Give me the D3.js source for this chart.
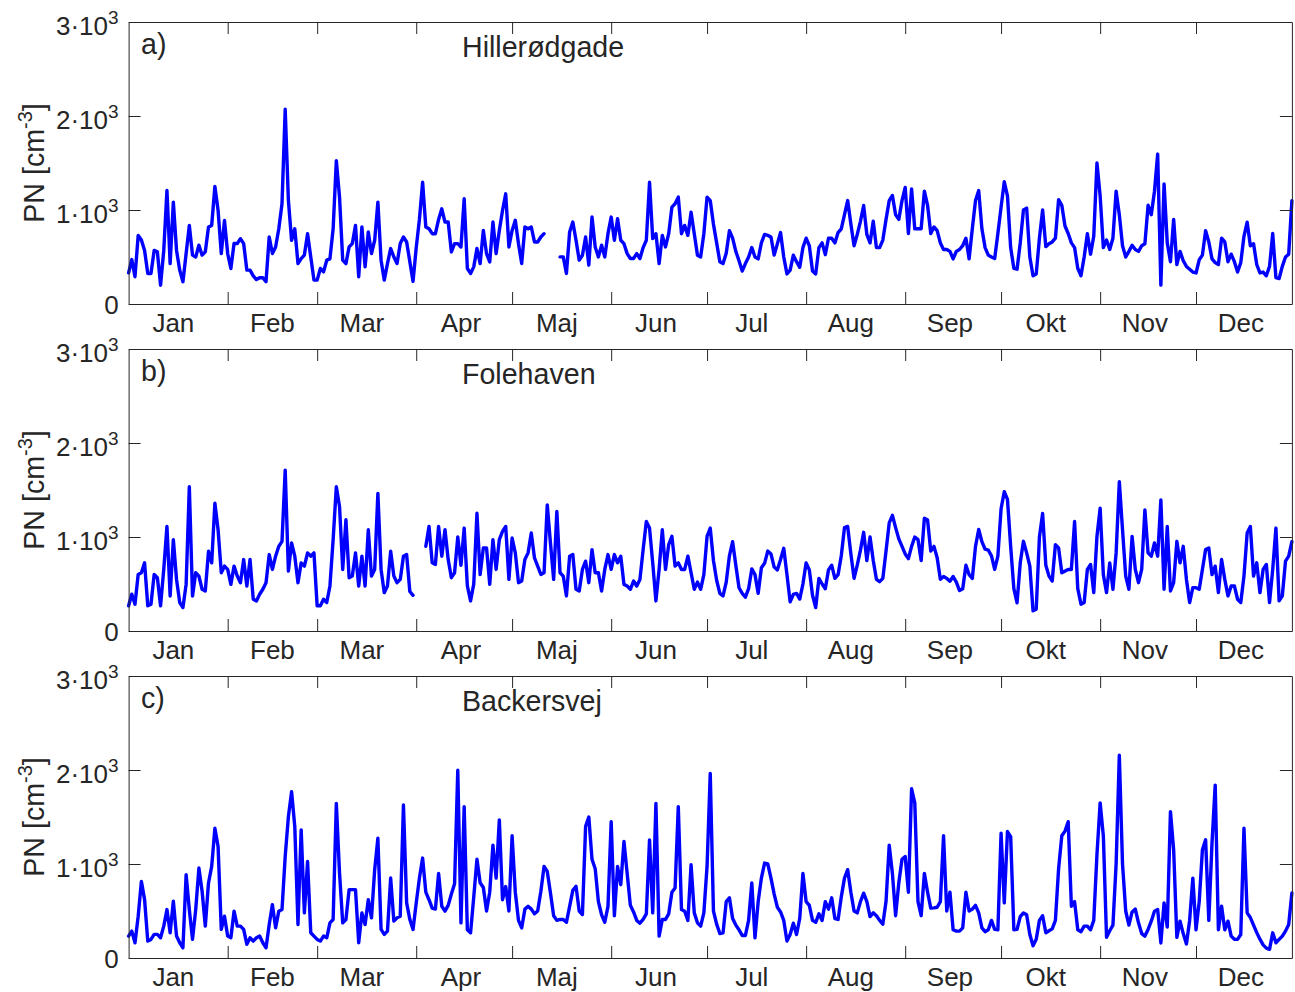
<!DOCTYPE html>
<html>
<head>
<meta charset="utf-8">
<script src="https://cdn.jsdelivr.net/npm/d3@7"></script>
<style>
  html, body { margin: 0; padding: 0; background: #fff; }
  svg { display: block; }
  text { font-family: "Liberation Sans", Arial, Helvetica, sans-serif; fill: #262626; }
</style>
</head>
<body>
<svg id="chart" width="1295" height="992"></svg>
<script>
// Daily mean particle number concentration (PN, cm^-3), day 1..365 of the year.
const months = ["Jan","Feb","Mar","Apr","Maj","Jun","Jul","Aug","Sep","Okt","Nov","Dec"];
const monthStarts = [0,31,59,90,120,151,181,212,243,273,304,334];
const yTicks = [0,1000,2000,3000];
const yTickMantissa = ["0","1","2","3"];
const stations = ["Hillerødgade","Folehaven","Backersvej"];
const panelTags = ["a)","b)","c)"];

const pnHillerodgade = [
 332,473,290,730,680,570,325,325,570,555,
 200,570,1207,430,1084,570,360,237,537,836,
 520,500,625,520,555,820,836,1250,995,537,
 890,537,378,643,643,695,643,360,360,300,
 260,280,280,237,713,537,607,800,1066,2072,
 1101,678,800,430,483,520,748,500,254,254,
 378,342,466,480,800,1525,1137,466,430,607,
 643,836,290,820,395,766,537,678,1084,466,
 254,430,590,500,430,643,713,660,450,240,
 600,900,1295,819,800,748,748,900,1013,872,
 872,554,642,642,607,1119,378,325,395,590,
 430,783,536,448,872,536,783,995,1172,607,
 783,890,642,430,819,800,819,660,660,713,
 748,null,null,null,null,501,501,325,766,872,
 678,466,519,713,413,925,607,501,625,501,
 748,925,678,907,678,642,536,484,484,536,
 484,600,678,1295,695,748,430,730,607,748,
 1031,1066,1137,748,836,730,977,748,519,501,
 748,1137,1100,850,650,450,430,540,780,700,
 560,460,350,430,500,600,500,480,650,740,
 730,713,520,640,760,500,320,360,520,450,
 390,600,700,620,350,320,600,650,525,700,
 700,650,760,800,950,1100,850,620,740,880,
 1048,740,650,880,600,600,680,900,1100,1154,
 950,900,1100,1240,750,1225,800,801,801,1200,
 1050,750,820,780,650,580,580,560,480,560,
 580,620,700,480,800,1100,1207,800,600,520,
 500,484,750,1031,1300,1150,600,380,370,650,
 1000,1020,500,300,320,700,1000,610,640,660,
 700,1110,1050,830,750,650,600,380,300,500,
 748,530,720,1500,1150,600,680,580,700,1200,
 950,620,500,560,625,580,560,620,640,1050,
 950,1200,1595,201,1278,650,450,900,420,560,
 460,400,370,340,330,470,520,780,660,480,
 440,420,700,660,450,530,450,340,440,720,
 870,620,640,420,330,340,300,400,750,280,
 270,400,500,530,1100
];

const pnFolehaven = [
 268,391,285,602,620,725,268,285,602,567,
 268,655,1112,373,972,549,303,250,496,1535,
 373,620,584,444,426,848,725,1359,1077,620,
 690,655,496,690,584,514,760,479,760,338,
 320,391,444,514,813,655,796,901,954,1711,
 637,936,796,514,725,690,831,796,831,268,
 268,338,303,479,972,1535,1324,655,1183,567,
 584,831,479,796,479,1077,584,655,1464,655,
 408,479,848,584,514,549,796,813,420,380,
 null,null,null,901,1112,725,708,1112,796,1077,
 760,567,620,1000,700,1095,479,320,500,1253,
 600,884,884,496,972,655,972,1060,1112,549,
 989,831,514,532,760,831,1042,778,690,602,
 620,1341,936,549,1271,620,584,373,796,813,
 444,426,655,743,514,866,620,620,426,655,
 813,655,813,725,796,496,479,444,532,479,
 549,866,1165,1095,725,320,655,1077,655,919,
 1007,690,725,655,655,796,620,444,520,444,
 600,1007,1095,750,540,400,373,520,800,950,
 700,460,400,360,450,660,600,400,672,720,
 850,820,680,650,760,880,600,310,390,400,
 340,500,725,650,380,250,560,500,450,650,
 700,560,600,800,1100,1112,820,560,700,860,
 1050,750,1000,750,550,525,560,850,1150,1230,
 1100,980,900,820,770,900,1000,972,750,1200,
 1180,850,900,780,550,580,560,530,580,520,
 430,450,700,600,560,900,1080,950,870,860,
 800,655,796,1300,1482,1400,900,450,300,725,
 954,831,690,215,232,1000,1250,700,584,532,
 919,884,620,637,655,655,1165,450,285,303,
 655,708,408,1007,1306,600,408,725,444,831,
 1588,1077,584,444,1007,655,514,655,1288,831,
 796,936,796,1394,444,1112,426,514,954,725,
 901,549,303,461,461,444,655,866,884,600,
 690,408,760,549,373,479,479,338,303,584,
 1042,1112,584,725,408,655,708,303,655,1095,
 320,373,743,796,950
];

const pnBackersvej = [
 233,286,162,445,815,621,180,198,251,251,
 215,339,515,268,604,233,162,109,886,515,
 198,515,957,710,339,798,974,1380,1186,304,
 445,233,215,498,339,339,304,145,215,180,
 215,233,162,109,357,568,321,498,515,1080,
 1504,1769,1398,357,1363,480,1027,268,233,198,
 180,233,215,374,410,1645,904,374,410,727,
 727,727,162,480,357,621,427,939,1274,304,
 251,286,851,392,427,445,1627,586,410,304,
 586,850,1063,700,620,530,520,900,550,498,
 560,680,790,1998,374,1610,300,268,650,1050,
 800,750,500,700,1200,850,1469,620,760,500,
 1300,700,400,320,520,551,520,470,500,710,
 974,921,692,450,400,410,410,380,550,720,
 762,500,462,1400,1500,1050,950,600,460,380,
 550,1451,450,974,780,1239,900,560,490,400,
 370,410,470,1257,480,1645,233,410,410,470,
 700,745,1610,515,498,400,992,480,374,339,
 480,974,1963,500,360,260,268,600,640,420,
 350,300,240,240,400,798,215,600,850,1010,
 1000,850,680,540,490,400,180,250,370,250,
 420,900,600,560,400,380,470,400,600,520,
 640,420,410,650,850,940,700,500,480,600,
 690,600,440,480,450,400,360,600,1200,900,
 450,800,1050,1080,700,1800,1650,600,450,900,
 700,530,533,540,600,1300,500,700,300,286,
 286,320,700,500,520,560,480,320,280,300,
 400,304,300,1327,586,1345,1292,300,304,440,
 480,460,250,130,200,400,450,268,290,310,
 400,950,1300,1350,1450,550,600,300,280,339,
 339,300,400,1100,1650,1300,220,290,350,1000,
 2157,1000,500,350,490,520,374,260,233,304,
 392,498,515,160,586,330,1557,1151,220,392,
 260,150,400,850,300,600,1151,1257,400,1221,
 1839,300,551,300,392,233,200,198,250,1380,
 480,430,350,270,200,140,105,92,268,162,
 198,233,286,357,692
];

const series = [pnHillerodgade, pnFolehaven, pnBackersvej];

// ---- layout ----
const svg = d3.select("#chart");
const left = 128.6, right = 1291.9;
const panelTops = [22, 349, 676];
const panelH = 282;
const tickLen = 12;
const axisColor = "#262626";
const lineColor = "#0000ff";

const x = d3.scaleLinear().domain([0, 364]).range([left, right]);

series.forEach((values, i) => {
  const top = panelTops[i];
  const bottom = top + panelH;
  const y = d3.scaleLinear().domain([0, 3000]).range([bottom, top]);
  const g = svg.append("g");

  // data line (gaps where the series has no value)
  const line = d3.line()
    .defined(d => d != null)
    .x((d, k) => x(k))
    .y(d => y(d));
  g.append("path")
    .datum(values)
    .attr("fill", "none")
    .attr("stroke", lineColor)
    .attr("stroke-width", 3.4)
    .attr("stroke-linejoin", "round")
    .attr("stroke-linecap", "round")
    .attr("d", line);

  // box axes with inward ticks on all four sides
  const axes = [
    { axis: d3.axisBottom(x).tickValues(monthStarts.slice(1)), t: `translate(0,${bottom})` },
    { axis: d3.axisTop(x).tickValues(monthStarts.slice(1)), t: `translate(0,${top})` },
    { axis: d3.axisLeft(y).tickValues(yTicks), t: `translate(${left},0)` },
    { axis: d3.axisRight(y).tickValues(yTicks), t: `translate(${right},0)` }
  ];
  axes.forEach(a => {
    const ag = g.append("g")
      .attr("transform", a.t)
      .call(a.axis.tickSize(-tickLen).tickSizeOuter(0).tickFormat(""));
    ag.select(".domain").attr("stroke", axisColor).attr("stroke-width", 1);
    ag.selectAll(".tick line").attr("stroke", axisColor).attr("stroke-width", 1);
    ag.selectAll(".tick text").remove();
  });

  // month names, centred on the 15th of each month
  g.selectAll("text.month")
    .data(months)
    .join("text")
    .attr("class", "month")
    .attr("x", (m, k) => x(monthStarts[k] + 14))
    .attr("y", bottom + 28)
    .attr("text-anchor", "middle")
    .attr("font-size", 26)
    .text(m => m);

  // y tick labels: "n·10^3"
  yTicks.forEach((v, k) => {
    const t = g.append("text")
      .attr("x", left - 10)
      .attr("text-anchor", "end")
      .attr("font-size", 26);
    if (v === 0) {
      t.attr("y", y(v) + 10).text(yTickMantissa[k]);
    } else {
      t.attr("y", y(v) + 13);
      t.append("tspan").text(yTickMantissa[k] + "\u00b710");
      t.append("tspan").attr("dy", -11).attr("font-size", 19).text("3");
    }
  });

  // y axis title
  const yl = g.append("text")
    .attr("transform", `translate(44,${(top + bottom) / 2}) rotate(-90)`)
    .attr("text-anchor", "middle")
    .attr("font-size", 28.6);
  yl.append("tspan").text("PN [cm");
  yl.append("tspan").attr("dy", -12).attr("font-size", 20).text("-3");
  yl.append("tspan").attr("dy", 12).text("]");

  // panel tag and station name
  g.append("text")
    .attr("x", 141)
    .attr("y", top + 32)
    .attr("font-size", 28.6)
    .text(panelTags[i]);
  g.append("text")
    .attr("x", 462)
    .attr("y", top + 35)
    .attr("font-size", 28.6)
    .text(stations[i]);
});
</script>
</body>
</html>
